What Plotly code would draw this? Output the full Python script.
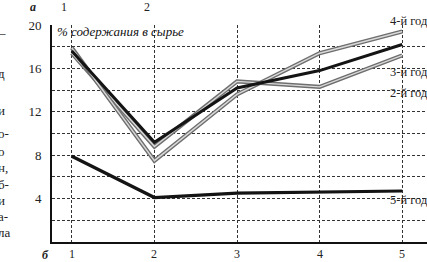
import plotly.graph_objects as go

years = [1, 2, 3, 4, 5]
tick_labels = ["1", "2", "3", "4", "5"]
y_ticks = [0, 2, 4, 6, 8, 10, 12, 14, 16, 18, 20]
y_tick_text = ["", "", "4", "", "8", "", "12", "", "16", "", "20"]

year2 = [17.4, 8.8, 14.8, 14.3, 17.2]
year3 = [17.6, 9.2, 14.2, 15.8, 18.2]
year4 = [17.9, 7.5, 13.6, 17.4, 19.4]
year5 = [7.9, 4.1, 4.5, 4.6, 4.7]

series_labels = ["4-й год", "3-й год", "2-й год", "5-й год"]
label_py = [21, 72, 93, 200]

W, H = 427, 262
ML, MR, MT, MB = 52, 0, 25, 20
PW, PH = W - ML - MR, H - MT - MB

def px(x):
    return (x - ML) / PW

def py(y):
    return (H - MB - y) / PH

SERIF = "Liberation Serif"

fig = go.Figure()

def double_line(vals):
    fig.add_trace(go.Scatter(x=years, y=vals, mode="lines",
                             line=dict(color="#6e6e6e", width=4.2), hoverinfo="skip", showlegend=False))
    fig.add_trace(go.Scatter(x=years, y=vals, mode="lines",
                             line=dict(color="#d9d9d9", width=1.4), hoverinfo="skip", showlegend=False))

double_line(year2)
double_line(year4)
fig.add_trace(go.Scatter(x=years, y=year3, mode="lines",
                         line=dict(color="#141414", width=3), showlegend=False))
fig.add_trace(go.Scatter(x=years, y=year5, mode="lines",
                         line=dict(color="#141414", width=3.2), showlegend=False))

annotations = []
for txt, yp in zip(series_labels, label_py):
    annotations.append(dict(x=4.83, y=py(yp), xref="x", yref="paper", text=txt, showarrow=False,
                            xanchor="left", yanchor="middle",
                            font=dict(family=SERIF, size=12.5, color="#222")))

for xv, t in zip(years, tick_labels):
    annotations.append(dict(x=xv, y=py(254), xref="x", yref="paper", text=t, showarrow=False,
                            xanchor="center", yanchor="middle",
                            font=dict(family=SERIF, size=12, color="#222")))

annotations.append(dict(x=px(55), y=py(32), xref="paper", yref="paper",
                        text="<i>% содержания в сырье</i>", showarrow=False,
                        xanchor="left", yanchor="middle",
                        font=dict(family=SERIF, size=13, color="#111")))

# page fragments around the figure
extra = [("<b><i>а</i></b>", 33, 7), ("1", 64, 7), ("2", 147, 7), ("<b><i>б</i></b>", 45, 255)]
for t, x0, y0 in extra:
    annotations.append(dict(x=px(x0), y=py(y0), xref="paper", yref="paper", text=t,
                            showarrow=False, xanchor="center", yanchor="middle",
                            font=dict(family=SERIF, size=12, color="#222")))

left_text = [("–", 33), ("д", 73), ("и", 110), ("о-", 133), ("о", 151), ("н,", 168),
             ("б-", 184), ("и", 200), ("а-", 216), ("ла", 232)]
for t, y0 in left_text:
    annotations.append(dict(x=px(-4), y=py(y0), xref="paper", yref="paper", text=t,
                            showarrow=False, xanchor="left", yanchor="middle",
                            font=dict(family=SERIF, size=13, color="#222")))

fig.update_layout(
    width=W, height=H,
    margin=dict(l=ML, r=MR, t=MT, b=MB, autoexpand=False),
    paper_bgcolor="white", plot_bgcolor="white",
    annotations=annotations,
    xaxis=dict(range=[0.76, 5.3], tickvals=years, showticklabels=False, automargin=False,
               showgrid=True, gridcolor="#333", gridwidth=1, griddash="3px,2px",
               showline=True, linecolor="#111", linewidth=2, zeroline=False, ticks=""),
    yaxis=dict(range=[0, 20], tickvals=y_ticks, ticktext=y_tick_text, automargin=False,
               showgrid=True, gridcolor="#333", gridwidth=1, griddash="3px,2px",
               showline=True, linecolor="#111", linewidth=2, zeroline=False,
               ticks="", ticklabelstandoff=6,
               tickfont=dict(family=SERIF, size=13, color="#222")),
)

fig.write_html("out.html", config={"displayModeBar": False},
               post_script="document.body.style.margin='0';document.body.style.padding='0';document.body.style.overflow='hidden';")
